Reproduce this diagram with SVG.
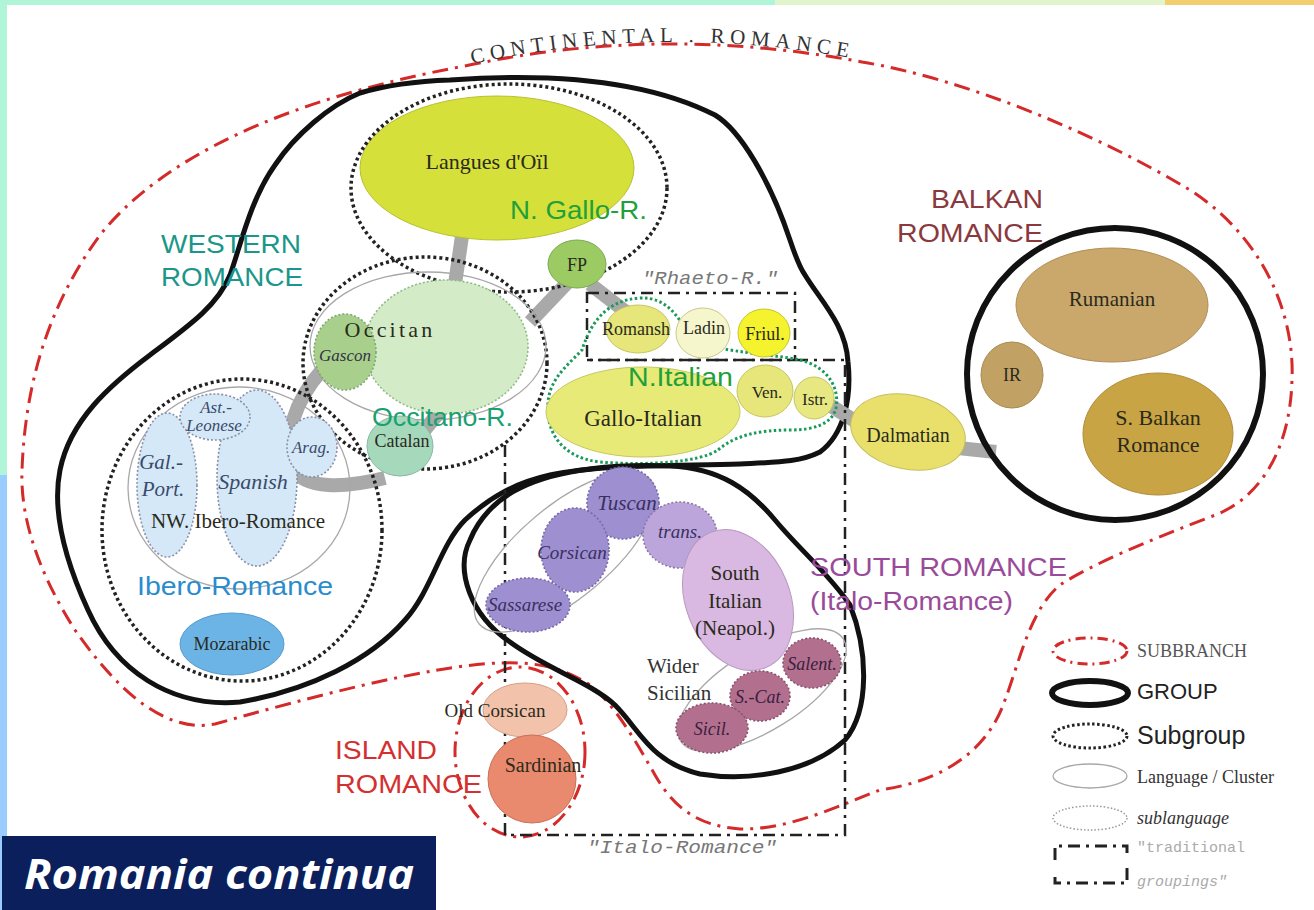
<svg xmlns="http://www.w3.org/2000/svg" width="1314" height="910" viewBox="0 0 1314 910">
<defs>
<style>
.group{fill:none;stroke:#111;stroke-width:5}
.subgroup{fill:none;stroke:#222;stroke-width:3.5;stroke-dasharray:3 3}
.lang{stroke:#a8a8a8;stroke-width:1.3}
.sub{stroke:#8a90a8;stroke-width:1.6;stroke-dasharray:2 2}
.branch{fill:none;stroke:#d42a2a;stroke-width:3;stroke-dasharray:16 7 3 7}
.trad{fill:none;stroke:#222;stroke-width:2.5;stroke-dasharray:12 6 3 6}
.conn{fill:none;stroke:#a9a9a9;stroke-width:14}
.lbl{font-family:"Liberation Serif",serif;fill:#2a2a1c;text-anchor:middle}
.it{font-family:"Liberation Serif",serif;font-style:italic;text-anchor:middle}
.head{font-family:"Liberation Sans",Arial,sans-serif;font-size:26px}
.mono{font-family:"Liberation Mono",monospace;font-style:italic;fill:#777;font-size:19px}
</style>
</defs>
<rect width="1314" height="910" fill="#fff"/>
<rect x="0" y="0" width="775" height="5" fill="#b0f5d8"/>
<rect x="775" y="0" width="390" height="5" fill="#e0f5cc"/>
<rect x="1165" y="0" width="149" height="5" fill="#f2ce6e"/>
<rect x="0" y="0" width="7" height="475" fill="#b0f5d8"/>
<rect x="0" y="475" width="7" height="435" fill="#99ccff"/>

<g id="continental-romance">
<path class="branch" d="M 465,66 Q 660,24 862,62 C 960,78 1090,130 1190,190 C 1260,235 1295,310 1292,380 C 1290,450 1260,500 1210,517 C 1150,540 1090,565 1060,585 C 1030,610 1020,660 1005,700 C 990,745 950,780 880,790 C 840,805 790,830 740,829 C 700,826 675,810 655,775 C 635,740 615,705 590,685 C 560,665 530,662 500,663 C 430,665 300,700 215,724 C 160,735 110,680 75,630 C 40,575 20,520 22,470 C 25,390 45,310 100,235 C 160,160 280,100 465,66 Z"/>
<path id="arc" d="M 472,64 Q 662,22 862,60" fill="none"/>
<text font-family="Liberation Serif,serif" font-size="21" fill="#333" letter-spacing="5.6"><textPath href="#arc">CONTINENTAL . ROMANCE</textPath></text>
</g>

<g id="island-romance">
<ellipse class="branch" cx="520" cy="752" rx="65" ry="85"/>
</g>

<g id="western-romance">
<path class="group" d="M 450,80 C 560,72 650,82 715,115 C 740,130 770,180 790,240 C 795,255 800,268 805,275 C 820,300 846,325 848,362 C 852,400 843,435 820,452 C 800,462 780,462 740,464 C 680,466 600,464 550,475 C 515,483 490,497 465,520 C 440,545 432,590 405,620 C 370,660 310,690 240,702 C 170,708 115,670 88,610 C 65,560 52,510 60,470 C 70,420 110,385 150,355 C 190,325 218,305 230,275 C 240,248 250,200 275,165 C 295,135 330,105 360,93 C 390,84 420,81 450,80 Z"/>
</g>

<g id="connectors">
<path class="conn" d="M 462,236 L 455,284"/>
<path class="conn" d="M 568,282 L 530,322"/>
<path class="conn" d="M 590,284 L 626,312"/>
<path class="conn" d="M 322,370 C 295,400 282,440 292,468 C 305,490 345,488 385,478"/>
<path class="conn" d="M 418,438 L 446,404"/>
<path class="conn" d="M 828,404 L 866,428"/>
<path class="conn" d="M 958,448 L 996,452"/>
</g>

<g id="traditional-groupings">
<path class="trad" d="M 505,445 V 835 H 845 V 360 H 587"/>
<rect class="trad" x="587" y="293" width="208" height="67"/>
<text class="mono" x="710" y="284" text-anchor="middle" textLength="136" lengthAdjust="spacingAndGlyphs">"Rhaeto-R."</text>
<text class="mono" x="682" y="853" text-anchor="middle" textLength="190" lengthAdjust="spacingAndGlyphs">"Italo-Romance"</text>
</g>

<g id="n-gallo-romance">
<ellipse cx="497" cy="168" rx="137" ry="72" fill="#d6e03a" stroke="#b8c030" stroke-width="1"/>
<text class="lbl" x="487" y="169" font-size="22">Langues d'Oïl</text>
<ellipse class="subgroup" cx="509" cy="188" rx="158" ry="104"/>
<text class="head" x="510" y="219" fill="#1fa03a" textLength="137" lengthAdjust="spacingAndGlyphs">N. Gallo-R.</text>
</g>

<g id="fp">
<ellipse cx="577" cy="264" rx="29" ry="24" fill="#9ccb64" stroke="#7aa850" stroke-width="1"/>
<text class="lbl" x="577" y="271" font-size="18">FP</text>
</g>

<g id="occitano-romance">
<ellipse class="subgroup" cx="425" cy="363" rx="122" ry="106"/>
<ellipse class="lang" cx="428" cy="346" rx="118" ry="74" fill="none"/>
<ellipse class="sub" cx="446" cy="347" rx="82" ry="67" fill="#d4ebc8" style="stroke:#90bb88"/>
<ellipse class="sub" cx="345" cy="352" rx="31" ry="38" fill="#a8d08c" style="stroke:#7fa870"/>
<text class="lbl" x="390" y="337" font-size="22" letter-spacing="3.2">Occitan</text>
<text class="it" x="345" y="361" font-size="17" fill="#334">Gascon</text>
<ellipse cx="400" cy="446" rx="33" ry="30" fill="#a6d8bc" stroke="#88b8a0" stroke-width="1"/>
<text class="lbl" x="402" y="447" font-size="18">Catalan</text>
<text class="head" x="372" y="426" fill="#1aa070" textLength="141" lengthAdjust="spacingAndGlyphs">Occitano-R.</text>
</g>

<g id="ibero-romance">
<ellipse class="subgroup" cx="242" cy="530" rx="140" ry="151"/>
<ellipse class="lang" cx="239" cy="488" rx="111" ry="101" fill="none"/>
<ellipse class="sub" cx="167" cy="485" rx="30" ry="72" fill="#d4e8f8"/>
<ellipse class="sub" cx="257" cy="478" rx="40" ry="88" fill="#d4e8f8"/>
<ellipse class="sub" cx="215" cy="417" rx="35" ry="23" fill="#d4e8f8"/>
<ellipse class="sub" cx="312" cy="447" rx="25" ry="30" fill="#d4e8f8"/>
<text class="it" x="216" y="413" font-size="17" fill="#3a4a6a">Ast.-</text>
<text class="it" x="214" y="431" font-size="17" fill="#3a4a6a">Leonese</text>
<text class="it" x="161" y="469" font-size="21" fill="#3a4a6a">Gal.-</text>
<text class="it" x="163" y="496" font-size="21" fill="#3a4a6a">Port.</text>
<text class="it" x="253" y="489" font-size="22" fill="#3a4a6a">Spanish</text>
<text class="it" x="311" y="453" font-size="17" fill="#3a4a6a">Arag.</text>
<text class="lbl" x="238" y="528" font-size="21" fill="#333">NW. Ibero-Romance</text>
<text class="head" x="137" y="595" fill="#2a8ccc" textLength="196" lengthAdjust="spacingAndGlyphs">Ibero-Romance</text>
<ellipse cx="232" cy="644" rx="52" ry="31" fill="#6cb4e6" stroke="#5a9ccc" stroke-width="1"/>
<text class="lbl" x="232" y="650" font-size="18">Mozarabic</text>
</g>

<g id="western-label">
<text class="head" x="161" y="253" fill="#1a968a" textLength="140" lengthAdjust="spacingAndGlyphs">WESTERN</text>
<text class="head" x="161" y="286" fill="#1a968a" textLength="142" lengthAdjust="spacingAndGlyphs">ROMANCE</text>
</g>

<g id="n-italian">
<path d="M 548,405 C 548,380 568,365 582,350 C 590,325 605,300 640,298 C 668,297 678,318 690,335 C 705,352 760,352 800,360 C 825,366 840,385 836,408 C 832,425 812,430 790,430 C 760,430 735,435 718,450 C 700,462 650,466 600,462 C 562,458 546,432 548,405 Z" fill="none" stroke="#1a9a5a" stroke-width="3" stroke-dasharray="2.5 2.5"/>
<ellipse cx="643" cy="412" rx="97" ry="45" fill="#e8ea78" stroke="#c6c860" stroke-width="1"/>
<ellipse cx="765" cy="391" rx="28" ry="26" fill="#e6e67a" stroke="#c6c660" stroke-width="1"/>
<ellipse cx="814" cy="398" rx="20" ry="21" fill="#e8e882" stroke="#c6c660" stroke-width="1"/>
<text class="head" x="628" y="386" fill="#1fa03a" textLength="105" lengthAdjust="spacingAndGlyphs">N.Italian</text>
<text class="lbl" x="643" y="426" font-size="23">Gallo-Italian</text>
<text class="lbl" x="767" y="398" font-size="17">Ven.</text>
<text class="lbl" x="815" y="405" font-size="17">Istr.</text>
</g>

<g id="rhaeto-romance">
<ellipse cx="638" cy="329" rx="32" ry="24" fill="#e6e67a" stroke="#c6c660" stroke-width="1"/>
<ellipse cx="703" cy="333" rx="27" ry="25" fill="#f6f6cc" stroke="#c8c890" stroke-width="1"/>
<ellipse cx="764" cy="333" rx="26" ry="24" fill="#f5f22e" stroke="#c8c430" stroke-width="1"/>
<text class="lbl" x="636" y="335" font-size="18">Romansh</text>
<text class="lbl" x="704" y="334" font-size="18">Ladin</text>
<text class="lbl" x="765" y="340" font-size="18">Friul.</text>
</g>

<g id="dalmatian">
<ellipse cx="908" cy="432" rx="58" ry="37" fill="#e9e06c" stroke="#c6be58" stroke-width="1" transform="rotate(12 908 432)"/>
<text class="lbl" x="908" y="442" font-size="20">Dalmatian</text>
</g>

<g id="balkan-romance">
<ellipse class="group" cx="1115" cy="374" rx="148" ry="146" style="stroke-width:6"/>
<ellipse cx="1112" cy="305" rx="96" ry="57" fill="#caa86c" stroke="#b09058" stroke-width="1"/>
<ellipse cx="1012" cy="375" rx="31" ry="33" fill="#c2a264" stroke="#a88a50" stroke-width="1"/>
<ellipse cx="1158" cy="434" rx="75" ry="61" fill="#c9a444" stroke="#b08c38" stroke-width="1"/>
<text class="lbl" x="1112" y="306" font-size="21">Rumanian</text>
<text class="lbl" x="1012" y="381" font-size="18">IR</text>
<text class="lbl" x="1158" y="425" font-size="22">S. Balkan</text>
<text class="lbl" x="1158" y="452" font-size="22">Romance</text>
<text class="head" x="1043" y="208" fill="#8a3a3e" text-anchor="end" textLength="112" lengthAdjust="spacingAndGlyphs">BALKAN</text>
<text class="head" x="1043" y="242" fill="#8a3a3e" text-anchor="end" textLength="146" lengthAdjust="spacingAndGlyphs">ROMANCE</text>
</g>

<g id="south-romance">
<path class="group" d="M 470,540 C 455,570 470,615 510,642 C 545,668 590,682 615,705 C 640,730 650,762 700,774 C 750,782 810,772 845,740 C 870,710 868,650 850,605 C 830,575 800,550 775,520 C 750,490 720,468 670,466 C 620,464 560,468 520,488 C 495,500 478,520 470,540 Z"/>
<ellipse class="lang" cx="565" cy="552" rx="112" ry="46" fill="none" transform="rotate(-40 565 552)"/>
<ellipse class="lang" cx="762" cy="690" rx="96" ry="40" fill="none" transform="rotate(-32 762 690)"/>
<ellipse class="sub" cx="623" cy="503" rx="36" ry="36" fill="#9d8fd0" style="stroke:#7868a8"/>
<ellipse class="sub" cx="575" cy="550" rx="34" ry="42" fill="#9d8fd0" style="stroke:#7868a8"/>
<ellipse class="sub" cx="528" cy="605" rx="42" ry="27" fill="#9d8fd0" style="stroke:#7868a8"/>
<ellipse class="sub" cx="680" cy="535" rx="37" ry="33" fill="#bba5da" style="stroke:#8c78a8"/>
<ellipse cx="738" cy="600" rx="52" ry="73" fill="#d9b9e1" stroke="#b898c0" stroke-width="1" transform="rotate(-22 738 600)"/>
<ellipse class="sub" cx="812" cy="663" rx="29" ry="25" fill="#b2708e" style="stroke:#8a5070"/>
<ellipse class="sub" cx="760" cy="696" rx="30" ry="25" fill="#b2708e" style="stroke:#8a5070"/>
<ellipse class="sub" cx="712" cy="728" rx="36" ry="25" fill="#b2708e" style="stroke:#8a5070"/>
<text class="it" x="627" y="510" font-size="21" fill="#3a3060">Tuscan</text>
<text class="it" x="572" y="559" font-size="19" fill="#3a3060">Corsican</text>
<text class="it" x="525" y="611" font-size="19" fill="#3a3060">Sassarese</text>
<text class="it" x="680" y="538" font-size="19" fill="#3a3060">trans.</text>
<text class="lbl" x="735" y="580" font-size="21">South</text>
<text class="lbl" x="735" y="608" font-size="21">Italian</text>
<text class="lbl" x="735" y="635" font-size="21">(Neapol.)</text>
<text class="it" x="812" y="670" font-size="18" fill="#3a2040">Salent.</text>
<text class="it" x="760" y="703" font-size="18" fill="#3a2040">S.-Cat.</text>
<text class="it" x="712" y="735" font-size="18" fill="#3a2040">Sicil.</text>
<text class="lbl" x="647" y="673" font-size="21" style="text-anchor:start;fill:#333">Wider</text>
<text class="lbl" x="647" y="700" font-size="21" style="text-anchor:start;fill:#333">Sicilian</text>
<text class="head" x="810" y="576" fill="#9a4a9a" textLength="257" lengthAdjust="spacingAndGlyphs">SOUTH ROMANCE</text>
<text class="head" x="810" y="610" fill="#9a4a9a" textLength="203" lengthAdjust="spacingAndGlyphs">(Italo-Romance)</text>
</g>

<g id="island-nodes">
<ellipse cx="525" cy="710" rx="42" ry="27" fill="#f2c2aa" stroke="#d0a08a" stroke-width="1"/>
<circle cx="532" cy="779" r="44" fill="#e98a6e" stroke="#c87058" stroke-width="1"/>
<text class="lbl" x="495" y="717" font-size="19">Old Corsican</text>
<text class="lbl" x="543" y="772" font-size="20">Sardinian</text>
<text class="head" x="335" y="759" fill="#d43030" textLength="102" lengthAdjust="spacingAndGlyphs">ISLAND</text>
<text class="head" x="335" y="793" fill="#d43030" textLength="147" lengthAdjust="spacingAndGlyphs">ROMANCE</text>
</g>

<g id="legend">
<ellipse class="branch" cx="1090" cy="651" rx="37" ry="13" style="stroke-dasharray:10 5 2 5"/>
<text x="1137" y="657" font-family="Liberation Serif,serif" font-size="18" fill="#555">SUBBRANCH</text>
<ellipse cx="1090" cy="693" rx="38" ry="12" fill="none" stroke="#111" stroke-width="6"/>
<text x="1137" y="699" font-family="Liberation Sans,sans-serif" font-size="22" fill="#222">GROUP</text>
<ellipse class="subgroup" cx="1090" cy="736" rx="37" ry="12" style="stroke-width:3;stroke-dasharray:2.5 2.5"/>
<text x="1137" y="744" font-family="Liberation Sans,sans-serif" font-size="25" fill="#222">Subgroup</text>
<ellipse class="lang" cx="1090" cy="776" rx="37" ry="12" fill="none"/>
<text x="1137" y="783" font-family="Liberation Serif,serif" font-size="18" fill="#333">Language / Cluster</text>
<ellipse cx="1090" cy="818" rx="37" ry="12" fill="none" stroke="#999" stroke-width="1.5" stroke-dasharray="1.5 2"/>
<text x="1137" y="824" font-family="Liberation Serif,serif" font-style="italic" font-size="18" fill="#333">sublanguage</text>
<path class="trad" d="M 1055,860 V 846 H 1127 V 856 M 1127,868 V 883 H 1055 V 872" style="stroke-width:3"/>
<text x="1137" y="852" font-family="Liberation Mono,monospace" font-size="15" fill="#aaa">"traditional</text>
<text x="1137" y="886" font-family="Liberation Mono,monospace" font-style="italic" font-size="15" fill="#aaa">groupings"</text>
</g>

<g id="title">
<rect x="2" y="836" width="434" height="74" fill="#0a1f5c"/>
<text x="24" y="889" font-family="Open Sans,sans-serif" font-weight="bold" font-style="italic" font-size="42" fill="#fff" textLength="390" lengthAdjust="spacingAndGlyphs">Romania continua</text>
</g>
</svg>
